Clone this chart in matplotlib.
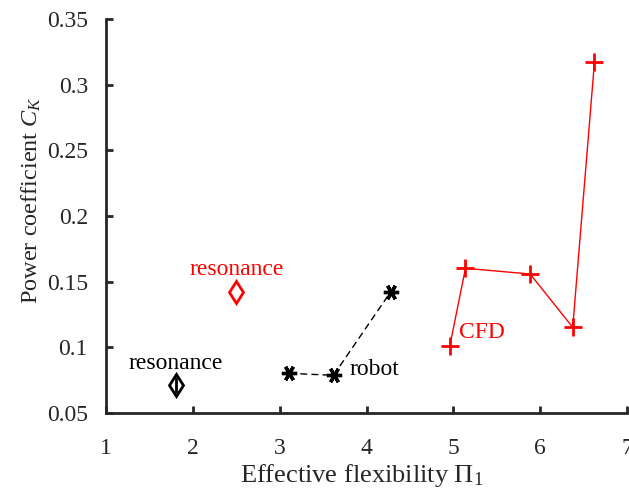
import matplotlib
matplotlib.use("Agg")
import matplotlib.pyplot as plt

plt.rcParams['font.family'] = ['Liberation Serif', 'DejaVu Serif']
plt.rcParams['mathtext.fontset'] = 'custom'
plt.rcParams['mathtext.rm'] = 'Liberation Serif'
plt.rcParams['mathtext.it'] = 'Liberation Serif:italic'

# Resonance estimates
res_exp_x = [1.81]
res_exp_y = [0.0715]
res_exp_err = [0.006]
res_cfd_x = [2.50]
res_cfd_y = [0.142]

# Robot measurements
robot_x = [3.11, 3.62, 4.28]
robot_y = [0.0802, 0.0787, 0.1424]

# CFD simulations
cfd_x = [4.96, 5.14, 5.885, 6.375, 6.625]
cfd_y = [0.1013, 0.1602, 0.1558, 0.1152, 0.317]

x_ticks = [1, 2, 3, 4, 5, 6, 7]
y_ticks = [0.05, 0.1, 0.15, 0.2, 0.25, 0.3, 0.35]
y_tick_labels = ['0.05', '0.1', '0.15', '0.2', '0.25', '0.3', '0.35']

fig = plt.figure(figsize=(6.29, 4.95), dpi=100)
ax = fig.add_axes([106/629, 1 - 413/495, (627-106)/629, (413-19)/495])

ax.plot(cfd_x, cfd_y, '-', color='red', lw=1.0,
        marker='+', ms=13, mew=2.0, clip_on=False)
ax.plot(robot_x, robot_y, '--', color='black', lw=1.0, dashes=(5, 3),
        marker=(6, 2, 30), ms=11, mew=2.4)
ax.plot(res_cfd_x, res_cfd_y, linestyle='none', marker='d', ms=11.5,
        mfc='none', mec='red', mew=2.0)
ax.errorbar(res_exp_x, res_exp_y, yerr=res_exp_err, fmt='d', ms=11.5,
            mfc='none', mec='black', mew=2.0, ecolor='black',
            elinewidth=2.0, capsize=0)

txt = dict(fontsize=17, va='center')
ax.text(2.50, 0.1595, 'resonance', color='red', ha='center', **txt)
ax.text(1.80, 0.0875, 'resonance', color='black', ha='center', **txt)
ax.text(3.80, 0.0835, 'robot', color='black', ha='left', **txt)
ax.text(5.06, 0.1110, 'CFD', color='red', ha='left', **txt)

ax.set_xlim(1, 7)
ax.set_ylim(0.05, 0.35)
ax.set_xticks(x_ticks)
ax.set_xticklabels([str(v) for v in x_ticks])
ax.set_yticks(y_ticks)
ax.set_yticklabels(y_tick_labels)

for side in ('top', 'right'):
    ax.spines[side].set_visible(False)
for side in ('left', 'bottom'):
    ax.spines[side].set_linewidth(2.0)
    ax.spines[side].set_color('#262626')
ax.tick_params(direction='in', length=5, width=2.0, colors='#262626',
               labelsize=17)
ax.tick_params(axis='x', pad=18)
ax.tick_params(axis='y', pad=13)

ax.set_xlabel(r'Effective flexibility $\Pi_1$', fontsize=19, color='#262626')
ax.set_ylabel(r'Power coefficient $C_K$', fontsize=17.5, color='#262626')
ax.xaxis.set_label_coords(0.49, -0.125)
ax.yaxis.set_label_coords(-0.12, 0.54)

fig.savefig('out.png', dpi=100)
